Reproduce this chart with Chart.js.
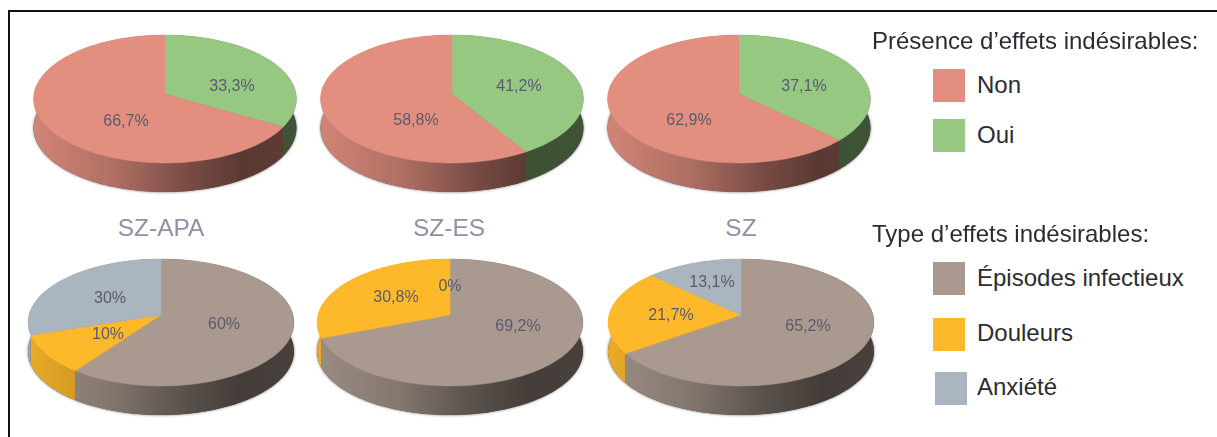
<!doctype html>
<html lang="fr">
  <head>
    <meta charset="utf-8">
    <style>
      * { margin: 0; padding: 0; box-sizing: border-box; }
      body { width: 1217px; height: 437px; background: #fff; position: relative; overflow: hidden; font-family: "Liberation Sans", sans-serif; }
      .frame { position: absolute; left: 8px; top: 10px; width: 1209px; height: 427px; border-top: 2.5px solid #111; border-left: 2.5px solid #111; }
      canvas { position: absolute; }
      .txt { position: absolute; white-space: nowrap; line-height: 1; transform: translateY(-50%); color: #2b2b33; }
      .head { font-size: 24px; }
      .item { font-size: 24px; }
      .title { font-size: 24.5px; color: #8e90a8; transform: translate(-50%, -50%); }
      .sw { position: absolute; width: 32px; height: 33px; }
    </style>
    <script src="https://cdn.jsdelivr.net/npm/chart.js/dist/chart.umd.min.js"></script>
  </head>
  <body>
    <div class="frame"></div>
    <script>
// data
const presenceLabels = ['Oui', 'Non'];
const szApaPresence = [33.3, 66.7];
const szEsPresence = [41.2, 58.8];
const szPresence = [37.1, 62.9];

const typeLabels = ['Épisodes infectieux', 'Douleurs', 'Anxiété'];
const szApaType = [60, 10, 30];
const szEsType = [69.2, 30.8, 0];
const szType = [65.2, 21.7, 13.1];

const groupNames = ['SZ-APA', 'SZ-ES', 'SZ'];

const presenceColors = ['#96c882', '#e28f80'];
const typeColors = ['#a9998f', '#fdb92a', '#aab5bf'];

// layout: apex of each pie, tilt and where the percent labels sit (offset from apex)
const pies = [
  { values: szApaPresence, labels: presenceLabels, colors: presenceColors, cx: 165, cy: 94, a: 131, b: 63.6, p: 0.078, spots: [[67, -8], [-39, 27]] },
  { values: szEsPresence, labels: presenceLabels, colors: presenceColors, cx: 452, cy: 94, a: 131, b: 63.6, p: 0.078, spots: [[67, -8], [-36, 26]] },
  { values: szPresence, labels: presenceLabels, colors: presenceColors, cx: 739, cy: 94, a: 131, b: 63.6, p: 0.078, spots: [[65, -8], [-50, 26]] },
  { values: szApaType, labels: typeLabels, colors: typeColors, cx: 161, cy: 315, a: 132, b: 62.6, p: 0.118, spots: [[63, 9], [-53, 19], [-51, -17]] },
  { values: szEsType, labels: typeLabels, colors: typeColors, cx: 450, cy: 315, a: 132, b: 62.6, p: 0.118, spots: [[68, 11], [-54, -18], [0, -29]] },
  { values: szType, labels: typeLabels, colors: typeColors, cx: 741, cy: 315, a: 132, b: 62.6, p: 0.118, spots: [[67, 11], [-70, 0], [-29, -33]] }
];

const depth = 29;

function shade(hex, f) {
  const n = parseInt(hex.slice(1), 16);
  return `rgb(${(n >> 16) * f}, ${((n >> 8) & 255) * f}, ${(n & 255) * f})`;
}

// top disc seen in perspective
function project(pie, r, t) {
  const u = r * Math.cos(t), v = r * Math.sin(t);
  const w = 1 - pie.p * v;
  return [pie.a * u / w, pie.b * v / w];
}

function rim(pie, from, to) {
  const steps = Math.max(2, Math.ceil(Math.abs(to - from) / 0.03));
  const pts = [];
  for (let i = 0; i <= steps; i++) pts.push(project(pie, 1, from + (to - from) * i / steps));
  return pts;
}

const pie3d = {
  id: 'pie3d',
  beforeDatasetsDraw(chart, args, opts) {
    const { ctx, canvas } = chart;
    const pie = opts.pie;
    const arcs = chart.getDatasetMeta(0).data;
    ctx.save();
    ctx.translate(canvas.clientWidth / 2, 80);

    // soft edge under the side wall
    ctx.save();
    ctx.shadowColor = 'rgba(0,0,0,0.6)';
    ctx.shadowBlur = 3;
    ctx.fillStyle = '#555';
    ctx.beginPath();
    rim(pie, 0, Math.PI * 2).forEach(([x, y]) => ctx.lineTo(x, y + depth));
    ctx.closePath();
    ctx.fill();
    ctx.restore();

    // side walls
    arcs.forEach((arc, i) => {
      if (arc.endAngle - arc.startAngle <= 0) return;
      const g = ctx.createLinearGradient(-pie.a, 0, pie.a, 0);
      g.addColorStop(0, shade(pie.colors[i], 0.92));
      g.addColorStop(0.3, shade(pie.colors[i], 0.78));
      g.addColorStop(0.6, shade(pie.colors[i], 0.52));
      g.addColorStop(0.8, shade(pie.colors[i], 0.4));
      g.addColorStop(1, shade(pie.colors[i], 0.42));
      const edge = rim(pie, arc.startAngle, arc.endAngle);
      ctx.fillStyle = g;
      ctx.beginPath();
      edge.forEach(([x, y]) => ctx.lineTo(x, y));
      edge.reverse().forEach(([x, y]) => ctx.lineTo(x, y + depth));
      ctx.closePath();
      ctx.fill();
    });

    // top faces
    arcs.forEach((arc, i) => {
      if (arc.endAngle - arc.startAngle <= 0) return;
      ctx.fillStyle = pie.colors[i];
      ctx.strokeStyle = pie.colors[i];
      ctx.lineWidth = 0.5;
      ctx.beginPath();
      ctx.moveTo(0, 0);
      rim(pie, arc.startAngle, arc.endAngle).forEach(([x, y]) => ctx.lineTo(x, y));
      ctx.closePath();
      ctx.fill();
      ctx.stroke();
    });

    // percent labels
    ctx.font = '16px "Liberation Sans", sans-serif';
    ctx.fillStyle = '#5b5b70';
    ctx.textAlign = 'center';
    ctx.textBaseline = 'middle';
    pie.values.forEach((v, i) => {
      ctx.fillText(String(v).replace('.', ',') + '%', pie.spots[i][0], pie.spots[i][1] + 1);
    });
    ctx.restore();
    return false;
  }
};

pies.forEach((pie) => {
  const c = document.createElement('canvas');
  c.width = 300;
  c.height = 190;
  c.style.left = (pie.cx - 150) + 'px';
  c.style.top = (pie.cy - 80) + 'px';
  document.body.appendChild(c);
  new Chart(c, {
    type: 'pie',
    data: { labels: pie.labels, datasets: [{ data: pie.values, backgroundColor: pie.colors }] },
    options: {
      responsive: false,
      animation: false,
      plugins: { legend: { display: false }, tooltip: { enabled: false }, pie3d: { pie } }
    },
    plugins: [pie3d]
  });
});

// group names between the rows
const titleX = [161, 449, 741];
groupNames.forEach((name, i) => {
  const d = document.createElement('div');
  d.className = 'txt title';
  d.textContent = name;
  d.style.left = titleX[i] + 'px';
  d.style.top = '228px';
  document.body.appendChild(d);
});

// legends
function addText(text, cls, x, y) {
  const d = document.createElement('div');
  d.className = 'txt ' + cls;
  d.textContent = text;
  d.style.left = x + 'px';
  d.style.top = y + 'px';
  document.body.appendChild(d);
}
function addSwatch(color, x, y) {
  const d = document.createElement('div');
  d.className = 'sw';
  d.style.background = color;
  d.style.left = x + 'px';
  d.style.top = y + 'px';
  document.body.appendChild(d);
}
addText('Présence d’effets indésirables:', 'head', 872, 41);
addSwatch(presenceColors[1], 933, 69);
addText(presenceLabels[1], 'item', 977, 85);
addSwatch(presenceColors[0], 933, 119);
addText(presenceLabels[0], 'item', 977, 135);

addText('Type d’effets indésirables:', 'head', 872, 234);
addSwatch(typeColors[0], 933, 262);
addText(typeLabels[0], 'item', 977, 278);
addSwatch(typeColors[1], 933, 318);
addText(typeLabels[1], 'item', 977, 333);
addSwatch(typeColors[2], 935, 372);
addText(typeLabels[2], 'item', 977, 387);
    </script>
  </body>
</html>
